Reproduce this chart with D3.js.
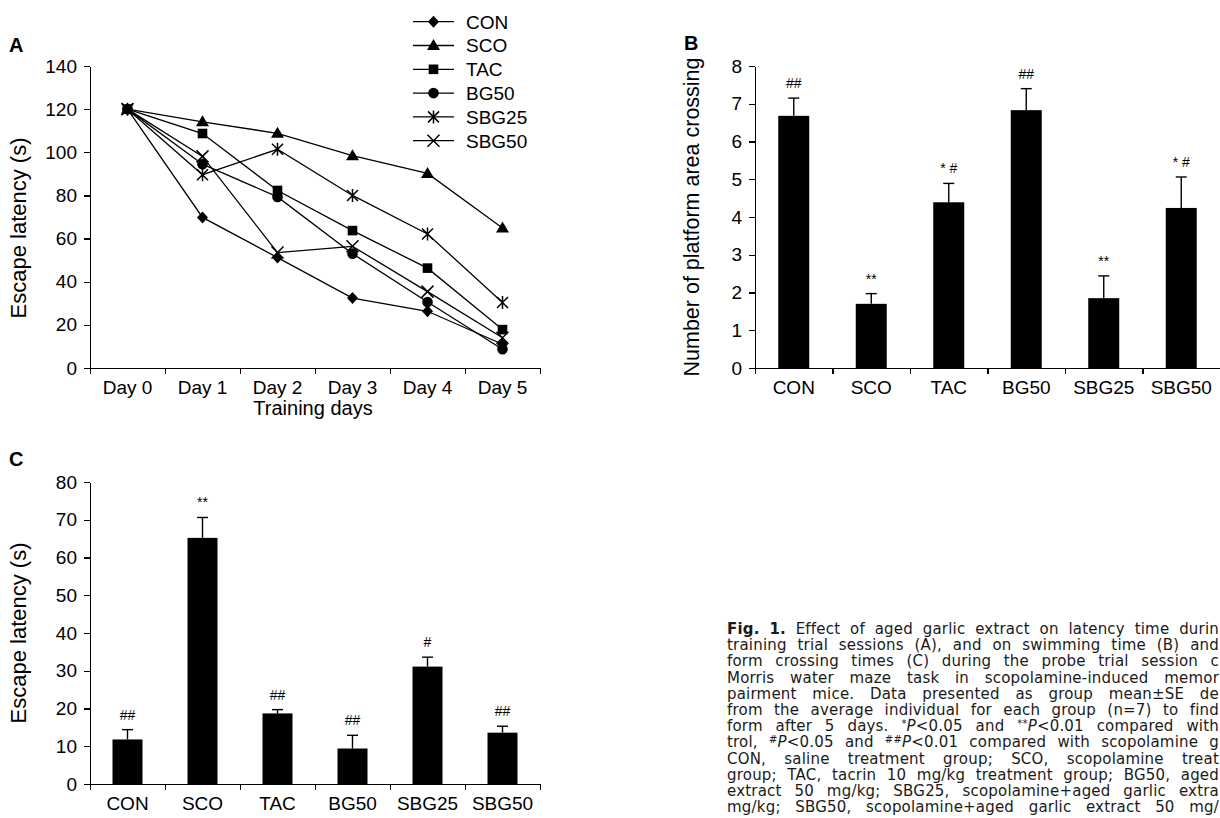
<!DOCTYPE html>
<html>
<head>
<meta charset="utf-8">
<script src="https://cdn.jsdelivr.net/npm/d3@7"></script>
<style>
  html, body { margin: 0; padding: 0; background: #fff; }
  svg { display: block; }
  .axis text { font-family: "Liberation Sans", Arimo, Arial, Helvetica, sans-serif; font-size: 19px; fill: #000; }
  .axis path, .axis line { stroke: #000; stroke-width: 1.2; shape-rendering: crispEdges; }
</style>
</head>
<body>
<svg id="chart" width="1220" height="818"></svg>
<script>
// ---------------- DATA ----------------
const days = ["Day 0", "Day 1", "Day 2", "Day 3", "Day 4", "Day 5"];
const groups = ["CON", "SCO", "TAC", "BG50", "SBG25", "SBG50"];

// Panel A: escape latency (s) during training
const latCON   = [120, 69.8, 51.2, 32.4, 26.3, 11.0];
const latSCO   = [120, 114.1, 108.8, 98.4, 90.2, 64.9];
const latTAC   = [120, 108.7, 82.3, 63.7, 46.3, 17.8];
const latBG50  = [120, 94.5, 79.3, 53.0, 30.6, 8.7];
const latSBG25 = [120, 89.6, 101.4, 80.0, 62.1, 30.4];
const latSBG50 = [120, 98.1, 53.5, 56.4, 35.4, 14.0];
const markerTypes = ["diamond", "triangle", "square", "circle", "star", "cross"];
const yTicksA = [0, 20, 40, 60, 80, 100, 120, 140];

// Panel B: number of platform area crossing
const crossMean = [6.68, 1.70, 4.39, 6.83, 1.85, 4.24];
const crossSE   = [0.47, 0.27, 0.50, 0.57, 0.59, 0.82];
const crossSig  = ["##", "**", "* #", "##", "**", "* #"];
const yTicksB = [0, 1, 2, 3, 4, 5, 6, 7, 8];

// Panel C: escape latency (s) in probe trial
const probeMean = [11.8, 65.2, 18.7, 9.4, 31.1, 13.6];
const probeSE   = [2.6, 5.4, 1.0, 3.5, 2.5, 1.7];
const probeSig  = ["##", "**", "##", "##", "#", "##"];
const yTicksC = [0, 10, 20, 30, 40, 50, 60, 70, 80];

// Caption lines (^sup^, _italic_, !bold!)
const captionLines = [
  "!Fig.! !1.! Effect of aged garlic extract on latency time durin",
  "training trial sessions (A), and on swimming time (B) and",
  "form crossing times (C) during the probe trial session c",
  "Morris water maze task in scopolamine-induced memor",
  "pairment mice. Data presented as group mean±SE de",
  "from the average individual for each group (n=7) to find",
  "form after 5 days. ^*^_P_<0.05 and ^**^_P_<0.01 compared with",
  "trol, ^#^_P_<0.05 and ^##^_P_<0.01 compared with scopolamine g",
  "CON, saline treatment group; SCO, scopolamine treat",
  "group; TAC, tacrin 10 mg/kg treatment group; BG50, aged",
  "extract 50 mg/kg; SBG25, scopolamine+aged garlic extra",
  "mg/kg; SBG50, scopolamine+aged garlic extract 50 mg/"
];

// ---------------- DRAW ----------------
const svg = d3.select("#chart");
svg.append("rect").attr("width", 1220).attr("height", 818).attr("fill", "#fff");
const FONT = '"Liberation Sans", Arimo, Arial, Helvetica, sans-serif';

function panelLetter(t, x, y) {
  svg.append("text").attr("x", x).attr("y", y).text(t)
    .attr("font-family", FONT).attr("font-weight", "bold").attr("font-size", 20);
}
function yTitle(t, x, yc, fs) {
  svg.append("text").attr("transform", `translate(${x},${yc}) rotate(-90)`)
    .attr("text-anchor", "middle").attr("font-family", FONT).attr("font-size", fs).text(t);
}

function boundaryAxis(x0, x1, n, y) {
  const s = d3.scalePoint().domain(d3.range(n + 1)).range([x0, x1]);
  svg.append("g").attr("class", "axis").attr("transform", `translate(0,${y})`)
    .call(d3.axisBottom(s).tickSize(6).tickSizeOuter(0).tickFormat(""));
}
function categoryLabels(band, y) {
  const g = svg.append("g").attr("class", "axis").attr("transform", `translate(0,${y})`)
    .call(d3.axisBottom(band).tickSize(0).tickPadding(13));
  g.select(".domain").remove();
}
function leftAxis(scale, ticks, x) {
  svg.append("g").attr("class", "axis").attr("transform", `translate(${x},0)`)
    .call(d3.axisLeft(scale).tickValues(ticks).tickSize(6).tickSizeOuter(0).tickPadding(7));
}

function drawMarker(g, type, x, y) {
  const sw = 1.5;
  if (type === "diamond") {
    g.append("path").attr("d", `M${x},${y - 6}L${x + 5.5},${y}L${x},${y + 6}L${x - 5.5},${y}Z`).attr("fill", "#000");
  } else if (type === "triangle") {
    g.append("path").attr("d", `M${x},${y - 6.5}L${x + 6.5},${y + 4.5}L${x - 6.5},${y + 4.5}Z`).attr("fill", "#000");
  } else if (type === "square") {
    g.append("rect").attr("x", x - 4.8).attr("y", y - 4.8).attr("width", 9.6).attr("height", 9.6).attr("fill", "#000");
  } else if (type === "circle") {
    g.append("circle").attr("cx", x).attr("cy", y).attr("r", 5.3).attr("fill", "#000");
  } else if (type === "star") {
    g.append("path").attr("d", `M${x},${y - 6.5}L${x},${y + 6.5}M${x - 5.5},${y - 5.5}L${x + 5.5},${y + 5.5}M${x - 5.5},${y + 5.5}L${x + 5.5},${y - 5.5}`)
      .attr("stroke", "#000").attr("stroke-width", sw).attr("fill", "none");
  } else if (type === "cross") {
    g.append("path").attr("d", `M${x - 6},${y - 6}L${x + 6},${y + 6}M${x - 6},${y + 6}L${x + 6},${y - 6}`)
      .attr("stroke", "#000").attr("stroke-width", sw).attr("fill", "none");
  }
}

// ---------- Panel A ----------
(function () {
  const x = d3.scaleBand().domain(days).range([90, 540]);
  const y = d3.scaleLinear().domain([0, 140]).range([368, 66]);
  const series = [latCON, latSCO, latTAC, latBG50, latSBG25, latSBG50];
  panelLetter("A", 9, 52);
  leftAxis(y, yTicksA, 90);
  boundaryAxis(90, 540, days.length, 368);
  categoryLabels(x, 368);
  svg.append("text").attr("x", 313).attr("y", 415).attr("text-anchor", "middle")
    .attr("font-family", FONT).attr("font-size", 20).text("Training days");
  yTitle("Escape latency (s)", 26, 228, 22);

  const line = d3.line().x((d, i) => x(days[i]) + x.bandwidth() / 2).y(d => y(d));
  const g = svg.append("g");
  series.forEach(s => g.append("path").attr("d", line(s)).attr("fill", "none").attr("stroke", "#000").attr("stroke-width", 1.3));
  series.forEach((s, k) => s.forEach((v, i) => drawMarker(g, markerTypes[k], x(days[i]) + x.bandwidth() / 2, y(v))));

  // legend
  const lg = svg.append("g");
  groups.forEach((name, k) => {
    const yy = 21.7 + k * 23.8;
    lg.append("line").attr("x1", 413).attr("x2", 454).attr("y1", yy).attr("y2", yy).attr("stroke", "#000").attr("stroke-width", 1.3);
    drawMarker(lg, markerTypes[k], 433.5, yy);
    lg.append("text").attr("x", 466).attr("y", yy).attr("dy", "0.36em").attr("font-family", FONT).attr("font-size", 19).text(name);
  });
})();

function barPanel(mean, se, sig, ticks, ymax, x0, x1, yTop, yBot) {
  const x = d3.scaleBand().domain(groups).range([x0, x1]).paddingInner(0.6).paddingOuter(0.3);
  const y = d3.scaleLinear().domain([0, ymax]).range([yBot, yTop]);
  leftAxis(y, ticks, x0);
  const g = svg.append("g");
  groups.forEach((name, i) => {
    const bx = x(name), bw = x.bandwidth(), cx = bx + bw / 2;
    g.append("rect").attr("x", bx).attr("y", y(mean[i])).attr("width", bw).attr("height", yBot - y(mean[i])).attr("fill", "#000");
    const et = y(mean[i] + se[i]);
    g.append("line").attr("x1", cx).attr("x2", cx).attr("y1", y(mean[i])).attr("y2", et).attr("stroke", "#000").attr("stroke-width", 1.4);
    g.append("line").attr("x1", cx - 5.5).attr("x2", cx + 5.5).attr("y1", et).attr("y2", et).attr("stroke", "#000").attr("stroke-width", 1.4);
    g.append("text").attr("x", cx).attr("y", et - 10).attr("text-anchor", "middle")
      .attr("font-family", FONT).attr("font-size", 14).text(sig[i]);
  });
  boundaryAxis(x0, x1, groups.length, yBot);
  categoryLabels(x, yBot);
}

// ---------- Panel B ----------
panelLetter("B", 684, 50);
yTitle("Number of platform area crossing", 699, 217, 21.5);
barPanel(crossMean, crossSE, crossSig, yTicksB, 8, 755, 1220, 66, 368);

// ---------- Panel C ----------
panelLetter("C", 9, 466);
yTitle("Escape latency (s)", 26, 633, 22);
barPanel(probeMean, probeSE, probeSig, yTicksC, 80, 90, 540, 482, 784);

// ---------- Caption ----------
(function () {
  const left = 727, right = 1219, top = 634, lh = 16.2;
  const CFONT = '"DejaVu Sans", "Noto Sans", sans-serif';
  const re = /\^([^^]*)\^|_([^_]*)_|!([^!]*)!|([^^_!]+)/g;
  captionLines.forEach((ln, li) => {
    const yy = top + li * lh;
    const words = ln.split(" ");
    const nodes = words.map(w => {
      const t = svg.append("text").attr("x", 0).attr("y", yy).attr("font-family", CFONT)
        .attr("font-size", 15).attr("letter-spacing", 0.2).attr("fill", "#1a1a1a");
      let m, shift = 0;
      re.lastIndex = 0;
      while ((m = re.exec(w)) !== null) {
        if (m[1] !== undefined) {
          t.append("tspan").attr("font-size", 10).attr("dy", -4).text(m[1]);
          shift = 4;
        } else {
          const sp = t.append("tspan");
          if (shift) { sp.attr("dy", shift); shift = 0; }
          if (m[2] !== undefined) sp.attr("font-style", "italic").text(m[2]);
          else if (m[3] !== undefined) sp.attr("font-weight", "bold").text(m[3]);
          else sp.text(m[4]);
        }
      }
      return t;
    });
    const widths = nodes.map(n => n.node().getComputedTextLength());
    const total = d3.sum(widths);
    const gap = words.length > 1 ? Math.max(3, (right - left - total) / (words.length - 1)) : 0;
    let cx = left;
    nodes.forEach((n, i) => { n.attr("x", cx); cx += widths[i] + gap; });
  });
})();
</script>
</body>
</html>
